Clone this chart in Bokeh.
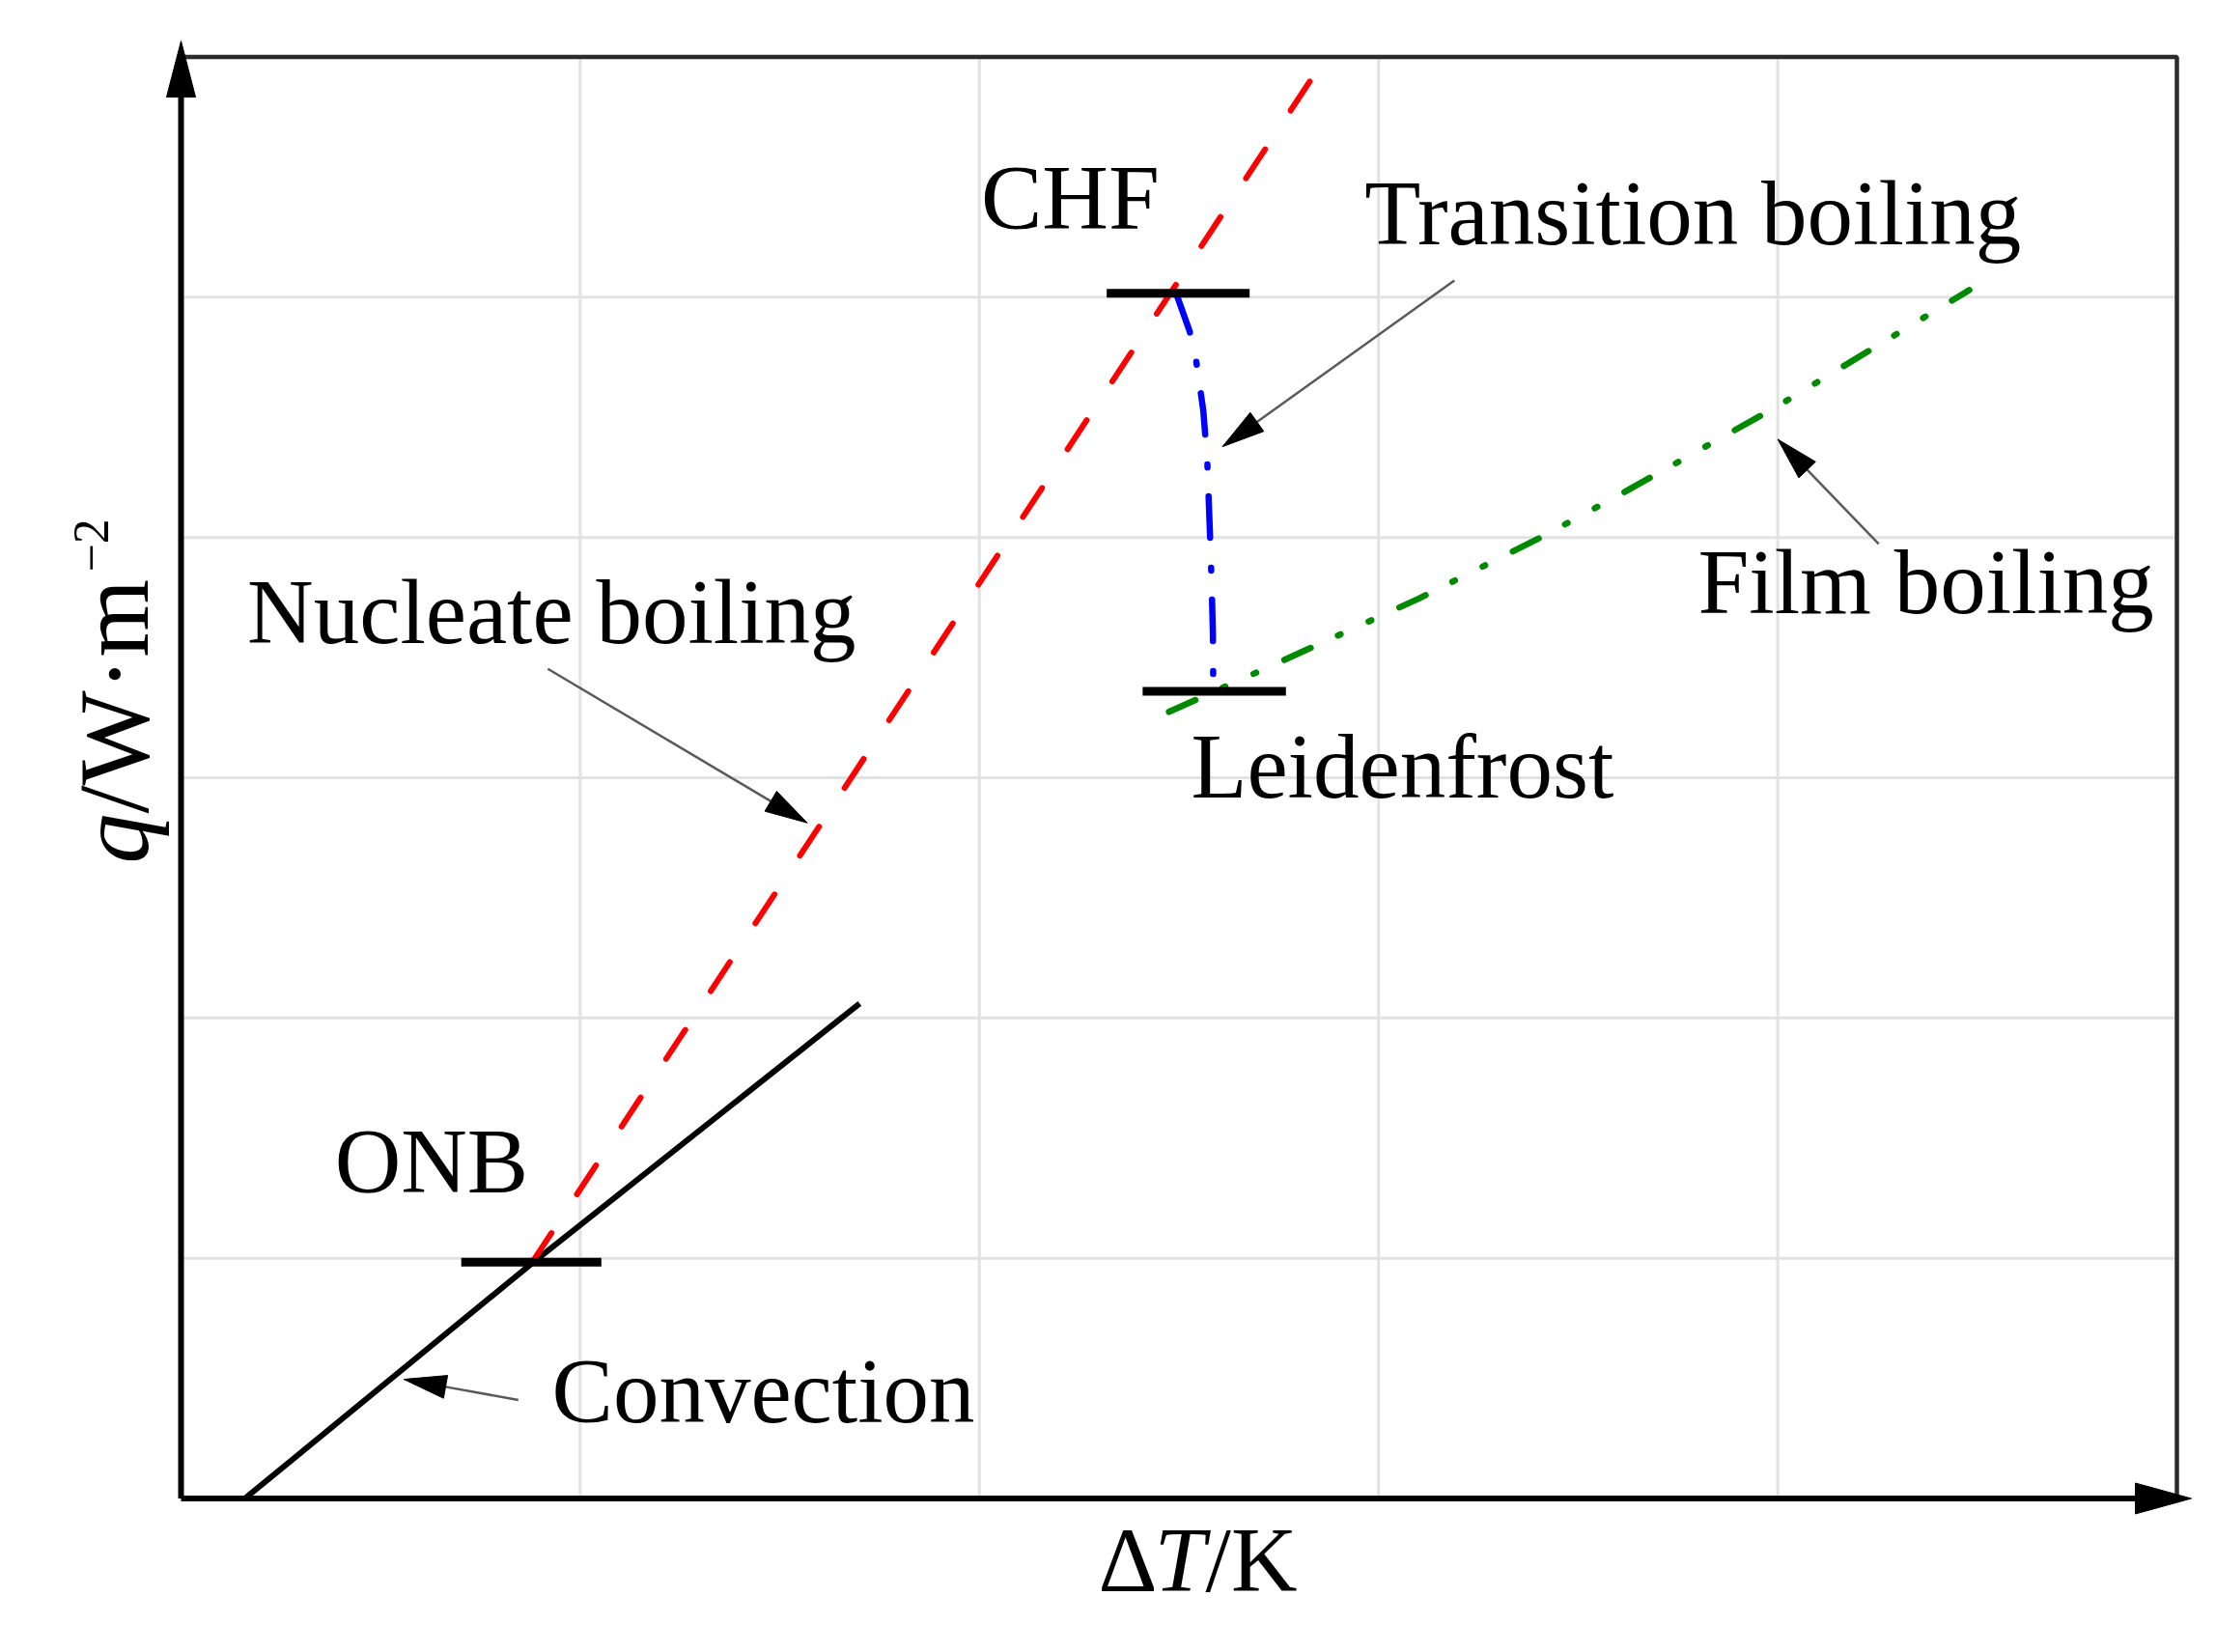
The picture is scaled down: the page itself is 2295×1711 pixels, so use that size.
import math
from bokeh.plotting import figure
from bokeh.models import Range1d
from bokeh.core.properties import value
from bokeh.embed import file_html
from bokeh.resources import INLINE

# ---------------- data (grid units: x 0..5, y 0..6) ----------------
X_MAX = 5.0
Y_MAX = 6.0
x_grid_ticks = [1, 2, 3, 4]
y_grid_ticks = [1, 2, 3, 4, 5]

conv_x = [0.16, 0.883, 1.70]
conv_y = [0.0, 0.984, 2.06]

nuc_x = [0.88, 2.868]
nuc_y = [0.984, 6.0]

trans_x = [2.493, 2.527, 2.543, 2.561, 2.571, 2.578, 2.582, 2.585, 2.586]
trans_y = [5.016, 4.857, 4.737, 4.527, 4.315, 4.0, 3.8, 3.6, 3.36]

film_x = [2.475, 2.757, 3.1, 3.406, 3.603, 4.0, 4.48]
film_y = [3.274, 3.485, 3.745, 4.0, 4.177, 4.547, 5.03]

bar_names = ["ONB", "CHF", "Leidenfrost"]
bar_x0 = [0.702, 2.319, 2.409]
bar_x1 = [1.053, 2.677, 2.768]
bar_y = [0.984, 5.016, 3.36]

label_text = ["CHF", "Transition boiling", "Nucleate boiling", "Film boiling",
              "Leidenfrost", "ONB", "Convection"]
label_x = [2.004, 2.965, 0.166, 3.80, 2.53, 0.385, 0.929]
label_y = [5.276, 5.21, 3.55, 3.675, 2.91, 1.265, 0.31]

arrow_tail_x = [0.919, 3.19, 4.253, 0.845]
arrow_tail_y = [3.453, 5.07, 3.973, 0.41]
arrow_tip_x = [1.569, 2.609, 4.0, 0.558]
arrow_tip_y = [2.812, 4.378, 4.409, 0.496]

# ---------------- layout constants (pixels) ----------------
W, H = 2290, 1705
PX0, PX_PER_X = 187.0, 413.4
PY0, PX_PER_Y = 1551.5, 248.83
BASE_SHIFT = 0.36   # em, correction so that the anchor lands on the text baseline

def sx(x):
    return PX0 + x * PX_PER_X

def sy(y):
    return PY0 - y * PX_PER_Y

def dx(px):
    return (px - PX0) / PX_PER_X

def dy(py):
    return (PY0 - py) / PX_PER_Y

def head(tail_x, tail_y, tip_x, tip_y, length, half_w):
    tx, ty = sx(tail_x), sy(tail_y)
    hx, hy = sx(tip_x), sy(tip_y)
    d = math.hypot(hx - tx, hy - ty)
    ux, uy = (hx - tx) / d, (hy - ty) / d
    bx, by = hx - ux * length, hy - uy * length
    px, py = -uy, ux
    xs = [hx, bx + px * half_w, bx - px * half_w]
    ys = [hy, by + py * half_w, by - py * half_w]
    return [dx(v) for v in xs], [dy(v) for v in ys], dx(bx), dy(by)

p = figure(width=W, height=H, output_backend="svg", toolbar_location=None,
           x_range=Range1d(-PX0 / PX_PER_X, (W - PX0) / PX_PER_X),
           y_range=Range1d(-(H - PY0) / PX_PER_Y, PY0 / PX_PER_Y),
           x_axis_location=None, y_axis_location=None, min_border=0,
           background_fill_color="white", border_fill_color="white")
p.outline_line_color = None
p.title.visible = False
p.xgrid.visible = False
p.ygrid.visible = False

GRID = "#e2e2e2"
p.segment(x0=x_grid_ticks, y0=[0] * 4, x1=x_grid_ticks, y1=[Y_MAX] * 4,
          line_color=GRID, line_width=3)
p.segment(x0=[0] * 5, y0=y_grid_ticks, x1=[X_MAX] * 5, y1=y_grid_ticks,
          line_color=GRID, line_width=3)

# frame top and right
p.line([0, X_MAX, X_MAX], [Y_MAX, Y_MAX, 0], line_color="#2b2b2b", line_width=4.5)

# axes with arrows
ya_x, ya_y, ya_bx, ya_by = head(0, 0, 0, Y_MAX + 16.5 / PX_PER_Y, 58, 15)
xa_x, xa_y, xa_bx, xa_by = head(0, 0, X_MAX + 15 / PX_PER_X, 0, 58, 16)
p.segment(x0=[0, 0], y0=[0, 0], x1=[0, xa_bx], y1=[ya_by, 0],
          line_color="black", line_width=6)
p.patches([ya_x, xa_x], [ya_y, xa_y], fill_color="black", line_color="black", line_width=1)

# curves
p.line(conv_x, conv_y, line_color="black", line_width=6)
p.line(nuc_x, nuc_y, line_color="#ff0000", line_width=6, line_dash="36 48", line_cap="round")
p.line(trans_x, trans_y, line_color="#0000ff", line_width=6.5,
       line_dash="43 31 3 30", line_cap="round")
p.line(film_x, film_y, line_color="#008a00", line_width=6.5,
       line_dash="30 31 3 32 3 32", line_cap="round")

# markers
p.segment(x0=bar_x0, y0=bar_y, x1=bar_x1, y1=bar_y, line_color="black", line_width=9)

# annotation arrows
hx_list, hy_list, lx0, ly0, lx1, ly1 = [], [], [], [], [], []
for i in range(len(arrow_tail_x)):
    hxs, hys, bx, by = head(arrow_tail_x[i], arrow_tail_y[i], arrow_tip_x[i], arrow_tip_y[i], 44, 12)
    hx_list.append(hxs)
    hy_list.append(hys)
    lx0.append(arrow_tail_x[i]); ly0.append(arrow_tail_y[i])
    lx1.append(bx); ly1.append(by)
p.segment(x0=lx0, y0=ly0, x1=lx1, y1=ly1, line_color="#5a5a5a", line_width=2.5)
p.patches(hx_list, hy_list, fill_color="black", line_color="black", line_width=1)

FONT = value("Liberation Serif")
FS = 95
shift = BASE_SHIFT * FS / PX_PER_Y
p.text(x=label_x, y=[v + shift for v in label_y], text=label_text, text_font=FONT,
       text_font_size=value(f"{FS}px"), text_color="black",
       text_align="left", text_baseline="alphabetic")

# x axis title: ΔT/K
XL_BASE = 1650 - BASE_SHIFT * FS
XL_LEFT = 1137
p.text(x=[dx(XL_LEFT)], y=[dy(XL_BASE)], text=["Δ"], text_font=FONT, text_font_size=value(f"{FS}px"),
       text_color="black", text_align="left", text_baseline="alphabetic")
p.text(x=[dx(XL_LEFT + 58)], y=[dy(XL_BASE)], text=["T"], text_font=FONT, text_font_size=value(f"{FS}px"),
       text_font_style="italic", text_color="black", text_align="left", text_baseline="alphabetic")
p.text(x=[dx(XL_LEFT + 111)], y=[dy(XL_BASE)], text=["/K"], text_font=FONT, text_font_size=value(f"{FS}px"),
       text_color="black", text_align="left", text_baseline="alphabetic")

# y axis title: q/W·m^-2 (rotated)
YFS, SFS = 104, 52
YL_BASE = 154 - BASE_SHIFT * YFS
SUP_BASE = 113 - BASE_SHIFT * SFS
p.text(x=[dx(YL_BASE)], y=[dy(894)], text=["q"], angle=math.pi / 2, text_font=FONT,
       text_font_size=value(f"{YFS}px"), text_font_style="italic", text_color="black",
       text_align="left", text_baseline="alphabetic")
p.text(x=[dx(YL_BASE)], y=[dy(894 - 0.5 * YFS)], text=["/W·m"], angle=math.pi / 2, text_font=FONT,
       text_font_size=value(f"{YFS}px"), text_color="black",
       text_align="left", text_baseline="alphabetic")
p.text(x=[dx(SUP_BASE)], y=[dy(592)], text=["\u22122"], angle=math.pi / 2, text_font=FONT,
       text_font_size=value(f"{SFS}px"), text_color="black",
       text_align="left", text_baseline="alphabetic")

open("out.html", "w").write(file_html(p, INLINE))
